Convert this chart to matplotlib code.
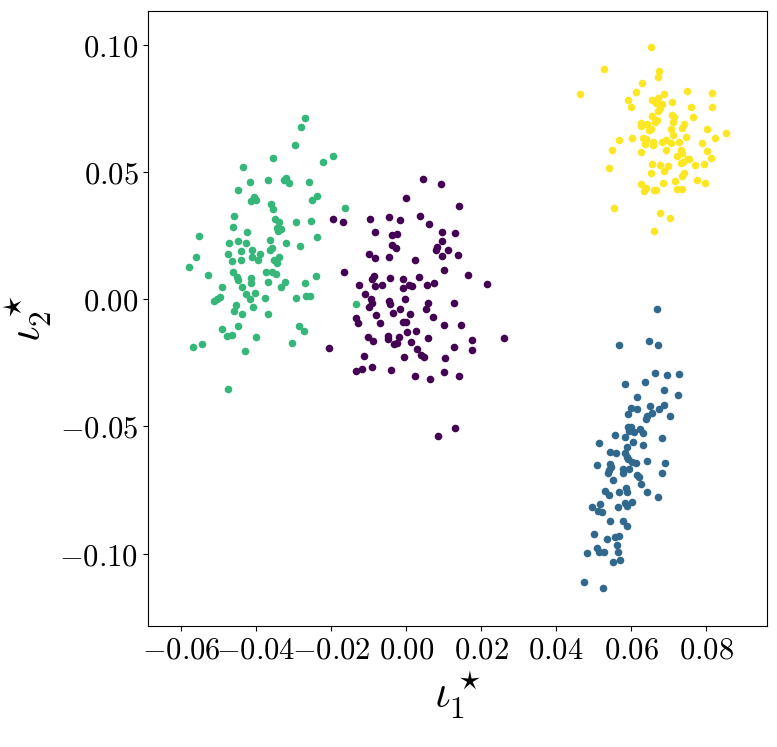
import numpy as np
import matplotlib
matplotlib.use("Agg")
import matplotlib.pyplot as plt
from matplotlib.ticker import FuncFormatter

plt.rcParams["mathtext.fontset"] = "cm"

# cluster 0 (purple)
x0 = [0.00461, 0.00933, 0.00008, 0.01405, -0.01947, -0.01672, -0.00952, -0.00461, -0.00168, 0.00365,
      0.00613, -0.00827, -0.00373, -0.0024, 0.0096, 0.01299, 0.00952, -0.00365, -0.00275, 0.00835,
      0.00808, 0.01128, -0.00987, -0.00819, -0.00461, 0.00248, 0.00968, 0.01379, -0.01661, 0.01021,
      0.01653, 0.02152, -0.00845, -0.00899, -0.00435, -0.00088, 0.00355, -0.01253, -0.00827, -0.0064,
      -0.0008, 0.0008, 0.0016, 0.00568, 0.00747, -0.01085, -0.00933, -0.00907, -0.00995, -0.00453,
      -0.00419, -0.00019, 0.00579, 0.00525, 0.01272, -0.0016, -0.00347, 0.00115, -0.00792, -0.01341,
      -0.0128, -0.00685, -0.0008, 0.00008, 0.00728, 0.01021, 0.01475, 0.00035, 0.00259, -0.01021,
      -0.00872, -0.0048, -0.00488, -0.00179, -0.00328, -0.00232, 0.00125, 0.00587, 0.01768, 0.02605,
      -0.02061, 0.00285, 0.01288, 0.01752, 0.00392, 0.00472, -0.01128, -0.00061, 0.01048, -0.01333,
      -0.01165, -0.00899, -0.00392, 0.0024, 0.00632, 0.01013, 0.01413, 0.01299, 0.00861]
y0 = [0.04741, 0.04532, 0.03982, 0.03667, 0.03145, 0.03039, 0.03145, 0.03235, 0.03117, 0.03263,
      0.02948, 0.02634, 0.02516, 0.02567, 0.02645, 0.02618, 0.02292, 0.02123, 0.02028, 0.02068,
      0.01926, 0.0195, 0.01781, 0.01623, 0.01663, 0.01557, 0.0169, 0.01753, 0.01085, 0.0114,
      0.00967, 0.00613, 0.00916, 0.00786, 0.00825, 0.00786, 0.00865, 0.00562, 0.00535, 0.0055,
      0.00444, 0.0055, 0.00511, 0.00574, 0.00629, 0.00208, 0.00012, -0.00157, -0.00314, -0.00067,
      -0.00197, 0.00012, -0.00157, -0.00381, -0.00157, -0.00393, -0.00539, -0.00578, -0.00629, -0.00735,
      -0.00943, -0.0092, -0.00892, -0.0088, -0.00708, -0.01022, -0.00998, -0.01274, -0.01246, -0.01494,
      -0.01627, -0.01431, -0.01572, -0.01482, -0.01745, -0.01718, -0.01678, -0.01533, -0.01588, -0.01533,
      -0.01914, -0.01942, -0.01863, -0.02005, -0.02178, -0.02268, -0.02229, -0.02256, -0.02296, -0.02807,
      -0.02752, -0.02649, -0.02791, -0.03015, -0.03145, -0.02858, -0.03015, -0.05047, -0.05373]

# cluster 1 (blue)
x1 = [0.06693, 0.05688, 0.06488, 0.06728, 0.06648, 0.06968, 0.07272, 0.05848, 0.06381, 0.06872,
      0.07253, 0.06152, 0.06515, 0.06872, 0.05992, 0.06152, 0.06739, 0.0592, 0.06552, 0.06435,
      0.064, 0.0704, 0.05912, 0.06, 0.06232, 0.0632, 0.05565, 0.05832, 0.05947, 0.06072,
      0.06053, 0.06312, 0.06827, 0.05155, 0.05901, 0.05432, 0.056, 0.05848, 0.05901, 0.05928,
      0.06027, 0.06125, 0.06435, 0.06907, 0.05101, 0.05448, 0.05475, 0.05387, 0.05421, 0.05779,
      0.05795, 0.05955, 0.06152, 0.06221, 0.06819, 0.05512, 0.06267, 0.05307, 0.05421, 0.0568,
      0.05859, 0.05901, 0.06419, 0.06728, 0.05165, 0.0496, 0.05112, 0.05235, 0.05661, 0.0584,
      0.05893, 0.06035, 0.05432, 0.05795, 0.05885, 0.05013, 0.05352, 0.05565, 0.0568, 0.05635,
      0.05093, 0.05139, 0.0528, 0.04827, 0.05653, 0.05512, 0.05699, 0.04747, 0.05253]
y1 = [-0.0037, -0.01785, -0.01627, -0.01796, -0.02909, -0.02964, -0.02925, -0.03341, -0.03263, -0.03565,
      -0.03774, -0.03829, -0.04182, -0.04143, -0.04273, -0.043, -0.04324, -0.04509, -0.04481, -0.04587,
      -0.04693, -0.04599, -0.0502, -0.0502, -0.0511, -0.05267, -0.05322, -0.05413, -0.05165, -0.05228,
      -0.05597, -0.05715, -0.05464, -0.05649, -0.05794, -0.06014, -0.06053, -0.06053, -0.06187, -0.06289,
      -0.06395, -0.06423, -0.06344, -0.06423, -0.06513, -0.06474, -0.06604, -0.06816, -0.06722, -0.06682,
      -0.0684, -0.06659, -0.06895, -0.07, -0.0684, -0.07115, -0.0726, -0.07524, -0.07704, -0.07563,
      -0.07406, -0.07586, -0.07586, -0.07759, -0.08035, -0.08153, -0.0831, -0.08361, -0.08164, -0.08019,
      -0.08113, -0.07968, -0.08703, -0.08715, -0.08911, -0.09214, -0.09434, -0.09344, -0.09292, -0.09646,
      -0.09764, -0.09933, -0.09933, -0.09973, -0.09945, -0.10314, -0.10248, -0.111, -0.1136]

# cluster 2 (green)
x2 = [-0.02685, -0.02808, -0.02952, -0.03555, -0.01947, -0.02213, -0.04355, -0.0416, -0.03688, -0.03253,
      -0.03192, -0.03128, -0.02579, -0.04472, -0.04053, -0.04133, -0.03992, -0.02365, -0.02499, -0.03592,
      -0.03555, -0.01627, -0.04595, -0.03485, -0.03379, -0.02933, -0.02533, -0.04613, -0.03448, -0.03333,
      -0.03421, -0.04232, -0.05512, -0.02365, -0.04712, -0.04472, -0.04267, -0.03619, -0.03192, -0.02827,
      -0.04392, -0.04099, -0.03619, -0.03573, -0.04739, -0.03885, -0.05608, -0.04115, -0.03947, -0.03387,
      -0.04632, -0.04408, -0.03512, -0.0344, -0.05779, -0.0528, -0.04613, -0.03733, -0.03573, -0.03467,
      -0.024, -0.04507, -0.04488, -0.04141, -0.04133, -0.03672, -0.03235, -0.02693, -0.04899, -0.04365,
      -0.03325, -0.04035, -0.04259, -0.04168, -0.03752, -0.02941, -0.02667, -0.0256, -0.0496, -0.0504,
      -0.05128, -0.04525, -0.04595, -0.0408, -0.04381, -0.03688, -0.04488, -0.04907, -0.02861, -0.0272,
      -0.04781, -0.04632, -0.04, -0.05448, -0.0568, -0.0304, -0.04301, -0.04739, -0.01341]
y2 = [0.07138, 0.06785, 0.06053, 0.05566, 0.05645, 0.05409, 0.05189, 0.04623, 0.04701, 0.04701,
      0.04756, 0.04572, 0.04599, 0.04285, 0.04021, 0.03876, 0.03892, 0.04072, 0.03903, 0.03746,
      0.0355, 0.03577, 0.03286, 0.03145, 0.0305, 0.03039, 0.03078, 0.0283, 0.02791, 0.02763,
      0.02685, 0.02657, 0.02476, 0.02437, 0.02225, 0.02303, 0.02213, 0.02319, 0.02225, 0.02107,
      0.0191, 0.0195, 0.0195, 0.02028, 0.01781, 0.01792, 0.01663, 0.01663, 0.01557, 0.01663,
      0.01494, 0.01533, 0.01557, 0.01427, 0.01258, 0.00967, 0.01085, 0.01085, 0.01085, 0.01006,
      0.00916, 0.00865, 0.0077, 0.00849, 0.00641, 0.0068, 0.00668, 0.00653, 0.00483, 0.00472,
      0.00483, 0.00259, 0.00197, 0.0, 0.00063, 0.00063, 0.0013, 0.00118, 0.00079, 0.00024,
      -0.00079, -0.00224, -0.00448, -0.00314, -0.0059, -0.0059, -0.0105, -0.01167, -0.01061, -0.01246,
      -0.01443, -0.01403, -0.01494, -0.01757, -0.01887, -0.0173, -0.02044, -0.03514, -0.00197]

# cluster 3 (yellow)
x3 = [0.06533, 0.05272, 0.06755, 0.06712, 0.06293, 0.04632, 0.06141, 0.06872, 0.07493, 0.08152,
      0.05928, 0.05992, 0.06552, 0.06712, 0.06659, 0.06819, 0.06773, 0.06712, 0.07093, 0.076,
      0.0816, 0.06568, 0.0664, 0.06693, 0.07085, 0.07155, 0.07645, 0.06267, 0.06259, 0.06427,
      0.0648, 0.06533, 0.0712, 0.07067, 0.07413, 0.07368, 0.08019, 0.08533, 0.0824, 0.05672,
      0.06019, 0.06312, 0.064, 0.06373, 0.06587, 0.06587, 0.06835, 0.06941, 0.07067, 0.0712,
      0.07459, 0.07288, 0.07893, 0.05501, 0.06267, 0.06933, 0.07341, 0.07368, 0.08019, 0.07219,
      0.07485, 0.07555, 0.07395, 0.07333, 0.07707, 0.07947, 0.08133, 0.05405, 0.06568, 0.06781,
      0.06979, 0.06888, 0.06533, 0.07413, 0.07352, 0.07768, 0.07981, 0.07165, 0.06861, 0.06275,
      0.06392, 0.06347, 0.06605, 0.06659, 0.07227, 0.0736, 0.05547, 0.06773, 0.07032, 0.06605]
y3 = [0.09918, 0.09041, 0.08962, 0.08726, 0.08491, 0.08058, 0.08149, 0.0807, 0.08176, 0.08109,
      0.07822, 0.07547, 0.07846, 0.07901, 0.07704, 0.07665, 0.07508, 0.07402, 0.07767, 0.07559,
      0.07547, 0.07205, 0.06958, 0.0706, 0.07256, 0.07166, 0.07178, 0.06942, 0.06824, 0.06879,
      0.06667, 0.06694, 0.06958, 0.06694, 0.06879, 0.06722, 0.06706, 0.06525, 0.06352, 0.06262,
      0.0634, 0.0634, 0.06301, 0.06093, 0.06195, 0.06053, 0.06195, 0.0625, 0.06144, 0.06458,
      0.0638, 0.06171, 0.06144, 0.05869, 0.05778, 0.05881, 0.05881, 0.05751, 0.05818, 0.05645,
      0.05515, 0.05527, 0.05409, 0.0537, 0.05267, 0.0533, 0.05542, 0.05161, 0.05318, 0.05279,
      0.05252, 0.05043, 0.04953, 0.04953, 0.04835, 0.04678, 0.04583, 0.04638, 0.0456, 0.0452,
      0.04363, 0.04257, 0.04308, 0.04308, 0.04324, 0.04324, 0.03601, 0.03392, 0.03184, 0.02697]

xs = [x0, x1, x2, x3]
ys = [y0, y1, y2, y3]

fig = plt.figure(figsize=(7.77, 7.47), dpi=100)
ax = fig.add_axes([0.1905, 0.1624, 0.797, 0.8233])

cmap = plt.get_cmap("viridis")
for k in range(4):
    ax.scatter(xs[k], ys[k], s=30, color=cmap(k / 3), linewidths=0)

ax.set_xlim(-0.0688, 0.0963)
ax.set_ylim(-0.1283, 0.1134)
ax.set_xticks([-0.06, -0.04, -0.02, 0.0, 0.02, 0.04, 0.06, 0.08])
ax.set_yticks([-0.10, -0.05, 0.0, 0.05, 0.10])
fmt = FuncFormatter(lambda v, p: r"$%.2f$" % v if abs(v) > 1e-9 else r"$0.00$")
ax.xaxis.set_major_formatter(fmt)
ax.yaxis.set_major_formatter(fmt)
ax.tick_params(labelsize=22)

ax.set_xlabel(r"$\iota_1^\star$", fontsize=32)
ax.set_ylabel(r"$\iota_2^\star$", fontsize=32)

fig.savefig("out.png", dpi=100)
